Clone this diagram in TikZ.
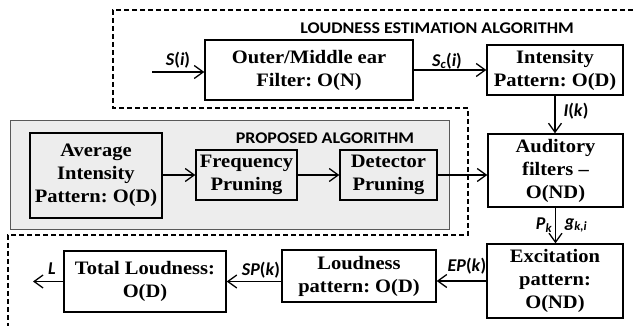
\documentclass[tikz,border=0pt]{standalone}
\usepackage{fontspec}
\setmainfont{Liberation Serif}[FakeStretch=1.08]
\newfontfamily\labelfont{Carlito}
\newfontfamily\headfont{Carlito}[FakeStretch=1.1]
\usetikzlibrary{arrows.meta}
\begin{document}
\frenchspacing
\begin{tikzpicture}[x=1pt,y=-1pt,
  box/.style={draw, line width=1.4pt, align=center, inner sep=0pt,
    font=\fontsize{19}{23}\selectfont\bfseries},
  flow/.style={line width=1.3pt,
    -{Straight Barb[length=9pt,width=13pt,line width=1.3pt]}},
  lab/.style={inner sep=0pt, font=\labelfont\fontsize{18}{20}\selectfont\bfseries},
  heading/.style={inner sep=0pt, font=\headfont\fontsize{16.3}{18}\selectfont\bfseries},
  region/.style={dash pattern=on 5pt off 3pt, line width=1.2pt}]
\useasboundingbox (0,0) rectangle (633,326);

% shaded panel of the proposed pruning steps
\fill[black!7] (10,120) rectangle (449,229);
\draw[black!65, line width=0.8pt] (10,120) rectangle (449,229);

% dashed outline of the full estimation chain
\draw[region] (633,10) -- (113,10) -- (113,108) -- (468,108) -- (468,235)
  -- (8,235) -- (8,326);

\node[heading] (htop) at (437,28) {LOUDNESS ESTIMATION ALGORITHM};
\node[heading] (hprop) at (325,138) {PROPOSED ALGORITHM};

% processing blocks
\node[box, minimum width=208pt, minimum height=60pt] (outer) at (309,70)
  {Outer/Middle ear\\Filter: O(N)};
\node[box, minimum width=136pt, minimum height=50pt] (inten) at (555,70)
  {Intensity\\Pattern: O(D)};
\node[box, minimum width=132pt, minimum height=85pt] (avg) at (96,175.5)
  {Average\\Intensity\\Pattern: O(D)};
\node[box, minimum width=101pt, minimum height=50pt] (freq) at (246.5,175)
  {Frequency\\Pruning};
\node[box, minimum width=97pt, minimum height=50pt] (det) at (388.5,175)
  {Detector\\Pruning};
\node[box, minimum width=135pt, minimum height=73pt] (aud) at (555.5,170.5)
  {Auditory\\filters --\\O(ND)};
\node[box, minimum width=136pt, minimum height=74pt] (exc) at (555,281)
  {Excitation\\pattern:\\O(ND)};
\node[box, minimum width=154pt, minimum height=52pt] (loud) at (359,276)
  {Loudness\\pattern: O(D)};
\node[box, minimum width=162pt, minimum height=61pt] (total) at (145,281.5)
  {Total Loudness:\\O(D)};

% signal flow
\coordinate (sin) at (152,72);
\coordinate (lout) at (33,282);
\draw[flow] (sin) -- (sin -| outer.west);
\draw[flow] (outer.east) -- (inten.west);
\draw[flow] (inten.south) -- (inten.south |- aud.north);
\draw[flow] (avg.east |- freq.west) -- (freq.west);
\draw[flow] (freq.east) -- (det.west);
\draw[flow] (det.east) -- (det.east -| aud.west);
\draw[flow] (aud.south) -- (aud.south |- exc.north);
\draw[flow] (exc.west) -- (exc.west -| loud.east);
\draw[flow] (loud.west |- total.east) -- (total.east);
\draw[flow] (total.west) -- (lout |- total.west);

% signal labels
\node[lab] (ls) at (178,60) {\textit{S}(\textit{i})};
\node[lab] (lsc) at (447,61) {\textit{S\textsubscript{c}}(\textit{i})};
\node[lab] (lik) at (576,111) {\textit{I}(\textit{k})};
\node[lab] (lpk) at (544,225) {\textit{P\textsubscript{k}}};
\node[lab] (lgk) at (576,225) {\textit{g\textsubscript{k,i}}};
\node[lab] (lep) at (467,266) {\textit{EP}(\textit{k})};
\node[lab] (lsp) at (261,270) {\textit{SP}(\textit{k})};
\node[lab] (ll) at (52,269) {\textit{L}};
\end{tikzpicture}
\end{document}
